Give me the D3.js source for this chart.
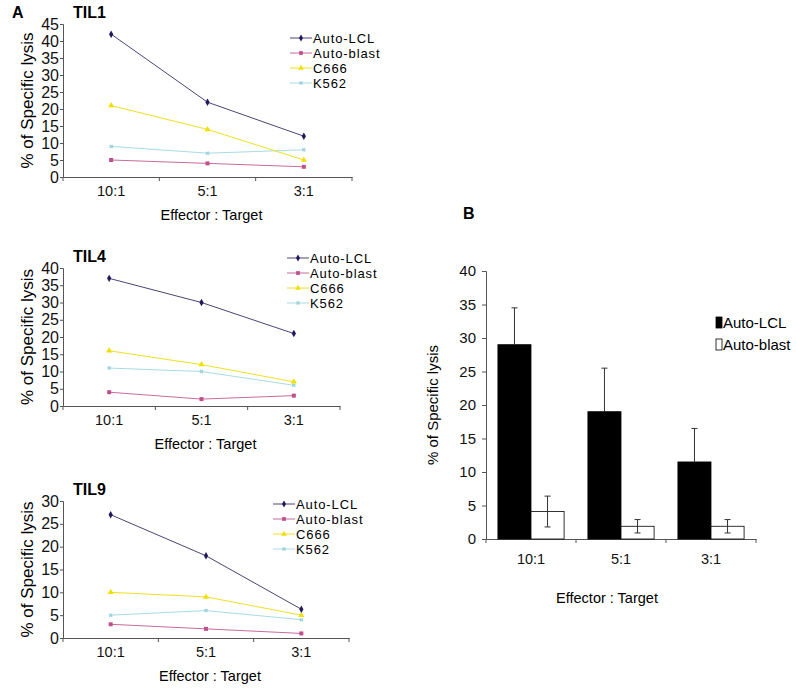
<!DOCTYPE html>
<html>
<head>
<meta charset="utf-8">
<script src="https://cdn.jsdelivr.net/npm/d3@7"></script>
<style>
  body { margin: 0; background: #fff; }
  svg { font-family: "Liberation Sans", Arial, sans-serif; }
  .axis path, .axis line { stroke: #555; }
  .axis text { fill: #111; }
</style>
</head>
<body>
<svg width="796" height="694"></svg>
<script>
// categories
var ratios = ["10:1", "5:1", "3:1"];
var targets = ["Auto-LCL", "Auto-blast", "C666", "K562"];

// panel A, one row per target
var til1 = [[42, 22, 12], [5, 4, 3], [21, 14, 5], [9, 7, 8]];
var til4 = [[37, 30, 21], [4, 2, 3], [16, 12, 7], [11, 10, 6]];
var til9 = [[27, 18, 6.3], [3, 2, 1], [10, 9, 5], [5, 6, 4]];

// panel B
var barLCL = [29, 19, 11.5];
var barLCLErr = [5.5, 6.5, 5];
var barBlast = [4.1, 1.9, 1.9];
var barBlastErr = [2.3, 1, 1];

var svg = d3.select("svg");

var lineCol = ["#4b4577", "#c86a9c", "#f0e020", "#a8dbe3"];
var markCol = ["#221a5e", "#c0508a", "#f0e000", "#9ad3dc"];
var markType = [d3.symbolDiamond, d3.symbolSquare, d3.symbolTriangle, d3.symbolCross];

svg.append("text").attr("x", 12).attr("y", 18)
  .style("font-size", "16px").style("font-weight", "bold").text("A");
svg.append("text").attr("x", 463).attr("y", 219)
  .style("font-size", "16px").style("font-weight", "bold").text("B");

function drawLinePanel(title, data, yMax, box) {
  var g = svg.append("g");
  var x = d3.scaleBand().domain(ratios).range([box.x0, box.x1]);
  var y = d3.scaleLinear().domain([0, yMax]).range([box.y1, box.y0]);

  g.append("g").attr("class", "axis")
    .attr("transform", "translate(" + box.x0 + ",0)")
    .call(d3.axisLeft(y).ticks(yMax / 5).tickSize(3).tickPadding(1))
    .call(function(a) { a.selectAll("text").style("font-size", "16px"); });

  var xa = g.append("g").attr("class", "axis")
    .attr("transform", "translate(0," + box.y1 + ")")
    .call(d3.axisBottom(x).tickSize(0).tickPadding(9));
  xa.selectAll("text").style("font-size", "14.5px");
  // tick marks between categories
  var edges = ratios.map(function(r) { return x(r); }).concat([box.x1]);
  xa.selectAll(".edge").data(edges).enter().append("line")
    .attr("x1", function(d) { return d; }).attr("x2", function(d) { return d; })
    .attr("y1", 0).attr("y2", 4).attr("stroke", "#555");

  g.append("text").attr("x", box.x0 + 10).attr("y", box.y0 - 6)
    .style("font-size", "16px").style("font-weight", "bold").text(title);

  g.append("text")
    .attr("transform", "translate(" + (box.x0 - 30) + "," + ((box.y0 + box.y1) / 2) + ") rotate(-90)")
    .attr("text-anchor", "middle").style("font-size", "17px").text("% of Specific lysis");

  g.append("text").attr("x", (box.x0 + box.x1) / 2 + 4).attr("y", box.y1 + 43)
    .attr("text-anchor", "middle").style("font-size", "14.5px").text("Effector : Target");

  var line = d3.line()
    .x(function(d, i) { return x(ratios[i]) + x.bandwidth() / 2; })
    .y(function(d) { return y(d); });

  // draw in reverse so Auto-LCL is on top
  for (var s = data.length - 1; s >= 0; s--) {
    g.append("path").datum(data[s]).attr("d", line)
      .attr("fill", "none").attr("stroke", lineCol[s]).attr("stroke-width", 1);
    g.selectAll(".m" + s).data(data[s]).enter().append("path")
      .attr("transform", function(d, i) {
        return "translate(" + (x(ratios[i]) + x.bandwidth() / 2) + "," + y(d) + ")" + (s === 3 ? " rotate(45)" : "");
      })
      .attr("d", d3.symbol().type(markType[s]).size(s === 3 ? 10 : 16))
      .attr("fill", markCol[s]);
  }

  // legend
  var lg = g.append("g").attr("transform", "translate(" + box.lx + "," + box.ly + ")");
  targets.forEach(function(t, i) {
    var row = lg.append("g").attr("transform", "translate(0," + i * 15 + ")");
    row.append("line").attr("x1", 0).attr("x2", 22).attr("y1", 0).attr("y2", 0)
      .attr("stroke", lineCol[i]);
    row.append("path").attr("transform", "translate(11,0)" + (i === 3 ? " rotate(45)" : ""))
      .attr("d", d3.symbol().type(markType[i]).size(i === 3 ? 10 : 14)).attr("fill", markCol[i]);
    row.append("text").attr("x", 23).attr("y", 5).style("font-size", "13px")
      .style("letter-spacing", "0.9px").text(t);
  });
}

drawLinePanel("TIL1", til1, 45, { x0: 63, x1: 352, y0: 24, y1: 177, lx: 290, ly: 38 });
drawLinePanel("TIL4", til4, 40, { x0: 63, x1: 340, y0: 268, y1: 406, lx: 287, ly: 258 });
drawLinePanel("TIL9", til9, 30, { x0: 63, x1: 349, y0: 501, y1: 638, lx: 273, ly: 504 });

// panel B bar chart
(function() {
  var box = { x0: 486, x1: 756, y0: 271, y1: 539 };
  var g = svg.append("g");
  var x = d3.scaleBand().domain(ratios).range([box.x0, box.x1]);
  var sub = d3.scaleBand().domain([0, 1]).range([0, x.bandwidth()]).paddingInner(0).paddingOuter(0.36);
  var y = d3.scaleLinear().domain([0, 40]).range([box.y1, box.y0]);

  g.append("g").attr("class", "axis")
    .attr("transform", "translate(" + box.x0 + ",0)")
    .call(d3.axisLeft(y).ticks(8).tickSize(4).tickPadding(6))
    .call(function(a) { a.selectAll("text").style("font-size", "15px"); });

  var xa = g.append("g").attr("class", "axis")
    .attr("transform", "translate(0," + box.y1 + ")")
    .call(d3.axisBottom(x).tickSize(0).tickPadding(15));
  xa.selectAll("text").style("font-size", "14.5px");
  var edges = ratios.map(function(r) { return x(r); }).concat([box.x1]);
  xa.selectAll(".edge").data(edges).enter().append("line")
    .attr("x1", function(d) { return d; }).attr("x2", function(d) { return d; })
    .attr("y1", 0).attr("y2", 4).attr("stroke", "#555");

  g.append("text")
    .attr("transform", "translate(438," + ((box.y0 + box.y1) / 2) + ") rotate(-90)")
    .attr("text-anchor", "middle").style("font-size", "15px").text("% of Specific lysis");
  g.append("text").attr("x", 607).attr("y", 603)
    .attr("text-anchor", "middle").style("font-size", "14.5px").text("Effector : Target");

  var series = [
    { v: barLCL, e: barLCLErr, fill: "#000", both: false },
    { v: barBlast, e: barBlastErr, fill: "#fff", both: true }
  ];
  series.forEach(function(s, k) {
    s.v.forEach(function(v, i) {
      var bx = x(ratios[i]) + sub(k);
      var cx = bx + sub.bandwidth() / 2;
      g.append("rect").attr("x", bx).attr("y", y(v))
        .attr("width", sub.bandwidth()).attr("height", y(0) - y(v))
        .attr("fill", s.fill).attr("stroke", "#000").attr("stroke-width", 0.8);
      var lo = s.both ? v - s.e[i] : v;
      var hi = v + s.e[i];
      g.append("line").attr("x1", cx).attr("x2", cx).attr("y1", y(lo)).attr("y2", y(hi))
        .attr("stroke", "#333");
      g.append("line").attr("x1", cx - 3).attr("x2", cx + 3).attr("y1", y(hi)).attr("y2", y(hi))
        .attr("stroke", "#333");
      if (s.both) {
        g.append("line").attr("x1", cx - 3).attr("x2", cx + 3).attr("y1", y(lo)).attr("y2", y(lo))
          .attr("stroke", "#333");
      }
    });
  });

  var lg = g.append("g").attr("transform", "translate(716,317)");
  ["Auto-LCL", "Auto-blast"].forEach(function(t, i) {
    var row = lg.append("g").attr("transform", "translate(0," + i * 22 + ")");
    row.append("rect").attr("x", 0).attr("y", 0).attr("width", 6).attr("height", 11)
      .attr("fill", i === 0 ? "#000" : "#fff").attr("stroke", "#000").attr("stroke-width", 0.8);
    row.append("text").attr("x", 7).attr("y", 11).style("font-size", "15px").text(t);
  });
})();
</script>
</body>
</html>
